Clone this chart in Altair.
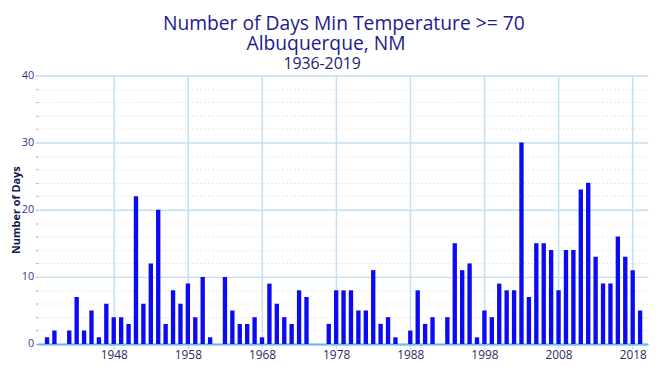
import altair as alt
import pandas as pd

years = list(range(1939, 2020))
days = [
    1, 2, 0, 2, 7, 2, 5, 1, 6, 4,        # 1939-1948
    4, 3, 22, 6, 12, 20, 3, 8, 6, 9,     # 1949-1958
    4, 10, 1, 0, 10, 5, 3, 3, 4, 1,      # 1959-1968
    9, 6, 4, 3, 8, 7, 0, 0, 3, 8,        # 1969-1978
    8, 8, 5, 5, 11, 3, 4, 1, 0, 2,       # 1979-1988
    8, 3, 4, 0, 4, 15, 11, 12, 1, 5,     # 1989-1998
    4, 9, 8, 8, 30, 7, 15, 15, 14, 8,    # 1999-2008
    14, 14, 23, 24, 13, 9, 9, 16, 13, 11,  # 2009-2018
    5,                                    # 2019
]
x_ticks = [1948, 1958, 1968, 1978, 1988, 1998, 2008, 2018]
y_ticks = list(range(0, 42, 2))

title_line1 = "Number of Days Min Temperature >= 70"
title_line2 = "Albuquerque, NM"
title_line3 = "1936-2019"

df = pd.DataFrame({"year": years, "days": days})

FONT = "Open Sans"
GRID_BLUE = "#c4dff2"

bars = (
    alt.Chart(df)
    .mark_bar(size=4.4, color="#0b0bf2", clip=True)
    .encode(
        x=alt.X(
            "year:Q",
            scale=alt.Scale(domain=[1938.4, 2019.4], nice=False, zero=False),
            axis=alt.Axis(
                title=None,
                values=x_ticks,
                format="d",
                grid=True,
                gridColor=GRID_BLUE,
                gridWidth=1.5,
                domainColor="#6cb6ea",
                domainWidth=2,
                tickColor=GRID_BLUE,
                tickSize=5,
                tickWidth=1.5,
                labelColor="#2b2b60",
                labelFont=FONT,
                labelFontSize=12,
                labelPadding=1,
            ),
        ),
        y=alt.Y(
            "days:Q",
            scale=alt.Scale(domain=[0, 40], nice=False),
            axis=alt.Axis(
                title="Number of Days",
                titleFont=FONT,
                titleFontSize=11,
                titleFontWeight="bold",
                titleColor="#161650",
                titlePadding=0,
                values=y_ticks,
                labelExpr="datum.value % 10 === 0 ? datum.label : ''",
                labelColor="#3b2e9e",
                labelFont=FONT,
                labelFontSize=11,
                labelPadding=2,
                domain=False,
                tickSize=2,
                tickColor="#aaaaaa",
                grid=True,
                gridColor=alt.condition("datum.value % 10 === 0", alt.value(GRID_BLUE), alt.value("#d2d2d2")),
                gridDash=alt.condition("datum.value % 10 === 0", alt.value([]), alt.value([1, 3])),
                gridWidth=alt.condition("datum.value % 10 === 0", alt.value(1.5), alt.value(1)),
            ),
        ),
    )
)


def title_text(text, size, color, cx, baseline_y):
    return (
        alt.Chart(pd.DataFrame({"t": [text]}))
        .mark_text(font=FONT, fontSize=size, color=color, align="center", baseline="alphabetic")
        .encode(text="t:N", x=alt.value(cx), y=alt.value(baseline_y))
    )


t1 = title_text(title_line1, 19.5, "#1c1c8c", 310, -46)
t2 = title_text(title_line2, 19.5, "#1c1c8c", 292, -26)
t3 = title_text(title_line3, 16, "#1c1c70", 288, -6)

chart = (
    alt.layer(bars, t1, t2, t3)
    .properties(
        width=618,
        height=272,
        autosize=alt.AutoSizeParams(type="none"),
        padding={"left": 30, "top": 66, "right": 1, "bottom": 20},
    )
    .configure_view(stroke=None)
)

chart.save("out.html", embed_options={"renderer": "svg", "actions": False})
